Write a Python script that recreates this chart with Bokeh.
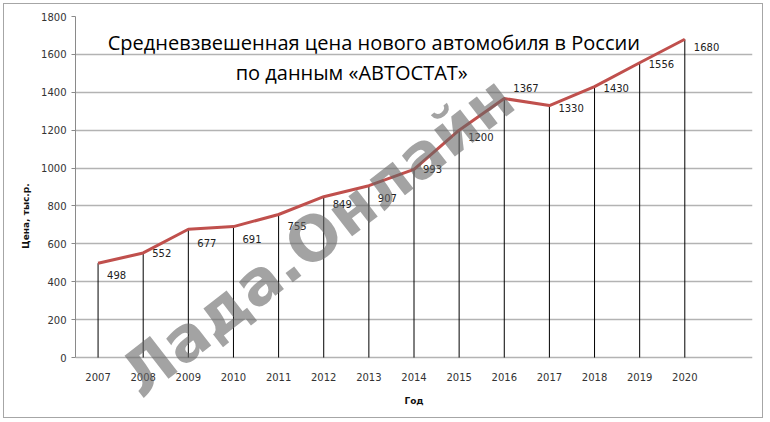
from bokeh.plotting import figure
from bokeh.models import Range1d, FixedTicker, Label, ColumnDataSource
from bokeh.core.properties import value
from bokeh.embed import file_html
from bokeh.resources import INLINE

# --- data ---
years = [2007, 2008, 2009, 2010, 2011, 2012, 2013, 2014, 2015, 2016, 2017, 2018, 2019, 2020]
prices = [498, 552, 677, 691, 755, 849, 907, 993, 1200, 1367, 1330, 1430, 1556, 1680]
y_ticks = [0, 200, 400, 600, 800, 1000, 1200, 1400, 1600, 1800]
title_lines = ["Средневзвешенная цена нового автомобиля в России", "по данным «АВТОСТАТ»"]
x_title = "Год"
y_title = "Цена, тыс.р."
watermark = "Лада.Онлайн"

# label vertical offsets (px, style only)
label_dy = [12, 0, 14, 12, 12, 7, 12, 0, 7, -11, 2, 1, 1, 8]

idx = list(range(len(years)))
src = ColumnDataSource(dict(x=idx, y=prices, y0=[0] * len(idx),
                            t=[str(v) for v in prices], dy=label_dy,
                            yr=[str(y) for y in years]))

# the frame extends below 0 so the category labels and the watermark share it
p = figure(width=760, height=415,
           x_range=Range1d(-0.5, len(years) + 0.5), y_range=Range1d(-306, 1800),
           output_backend="svg", toolbar_location=None,
           min_border_left=71, min_border_right=12, min_border_top=12, min_border_bottom=4)
p.margin = (3, 3, 3, 3)
p.styles = {"border": "1px solid #a6a6a6"}
p.outline_line_color = None
p.background_fill_color = "white"
p.border_fill_color = "white"

FONT = value("DejaVu Sans")

# y axis
p.yaxis.bounds = (0, 1800)
p.yaxis.ticker = FixedTicker(ticks=y_ticks)
p.yaxis.major_tick_out = 4
p.yaxis.major_tick_in = 0
p.yaxis.minor_tick_out = 0
p.yaxis.minor_tick_in = 0
p.yaxis.axis_line_color = "#8a8a8a"
p.yaxis.major_tick_line_color = "#8a8a8a"
p.yaxis.major_label_text_font = "DejaVu Sans"
p.yaxis.major_label_text_font_size = "10px"
p.yaxis.major_label_text_color = "#333333"
p.yaxis.major_label_standoff = 5
p.yaxis.axis_label = y_title
p.yaxis.axis_label_text_font = "DejaVu Sans"
p.yaxis.axis_label_text_font_style = "bold"
p.yaxis.axis_label_text_font_size = "9px"
p.yaxis.axis_label_text_color = "#111111"
p.yaxis.axis_label_standoff = 7

p.xaxis.visible = False
p.xgrid.grid_line_color = None
p.ygrid.ticker = FixedTicker(ticks=y_ticks)
p.ygrid.grid_line_color = "#b3b3b3"
p.ygrid.grid_line_width = 1.5
p.ygrid.bounds = (-0.5, len(years) + 0.5)

# category labels and axis title (drawn at value 0, offset below it)
p.text(x="x", y="y0", text="yr", source=src, y_offset=19,
       text_align="center", text_baseline="middle",
       text_font=FONT, text_font_size="10px", text_color="#333333")
p.text(x=[(len(years) - 1) / 2 + 0.5], y=[0], text=[x_title], y_offset=43,
       text_align="center", text_baseline="middle",
       text_font=FONT, text_font_style="bold", text_font_size="9px", text_color="#111111")

# drop lines and series
p.segment(x0="x", y0="y0", x1="x", y1="y", source=src, line_color="black", line_width=1)
p.line(x="x", y="y", source=src, line_color="#c0504d", line_width=3)

# watermark (semi-transparent)
p.add_layout(Label(x=4.85, y=640, text=watermark, angle=0.66,
                   text_align="center", text_baseline="middle",
                   text_font="DejaVu Sans", text_font_style="bold",
                   text_font_size="62px", text_color="#666666", text_alpha=0.6))

# data labels
p.text(x="x", y="y", text="t", source=src, x_offset=9, y_offset="dy",
       text_align="left", text_baseline="middle",
       text_font=FONT, text_font_size="10px", text_color="#222222")

# title inside plot
p.add_layout(Label(x=6.11, y=1663, text=title_lines[0], text_align="center",
                   text_baseline="middle", text_font="Open Sans",
                   text_font_size="20px", text_color="black"))
p.add_layout(Label(x=5.62, y=1505, text=title_lines[1], text_align="center",
                   text_baseline="middle", text_font="Open Sans",
                   text_font_size="20px", text_color="black"))

open("out.html", "w").write(file_html(p, INLINE))
